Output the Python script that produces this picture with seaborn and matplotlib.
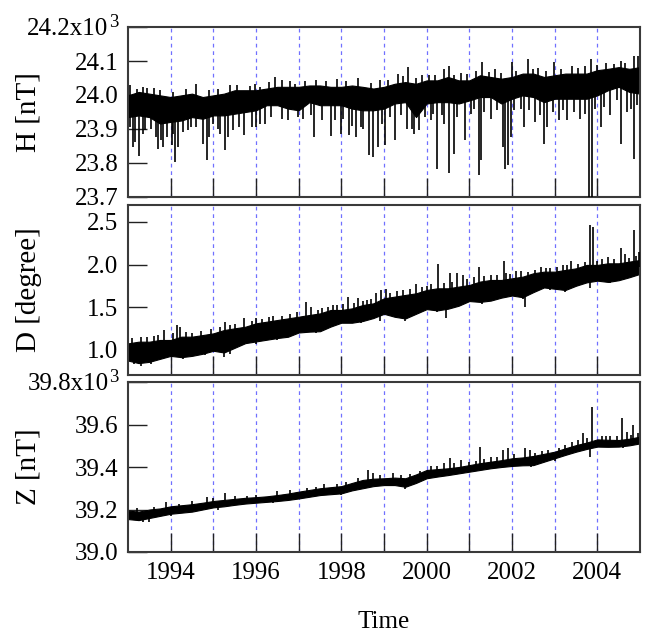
import numpy as np
import pandas as pd
import matplotlib
matplotlib.use("Agg")
import matplotlib.pyplot as plt
import seaborn as sns

# ---------------------------------------------------------------------------
# Geomagnetic field components, 1993-2005
# Quarterly envelope of the dense record (low / high) plus isolated spikes.
# ---------------------------------------------------------------------------
quarter_years = np.linspace(1993.0, 2005.0, 49)

# Horizontal intensity H [nT]
h_low = [23935, 23940, 23935, 23916, 23921, 23925, 23935, 23930, 23940, 23940,
         23945, 23950, 23955, 23970, 23970, 23960, 23955, 23979, 23970, 23970,
         23970, 23960, 23955, 23955, 23960, 23975, 23979, 23935, 23975, 23979,
         23979, 23975, 23984, 23994, 23994, 23975, 23989, 23999, 23994, 23979,
         23989, 23989, 23989, 23989, 23999, 24014, 24024, 24009, 24004]
h_high = [23999, 24009, 24004, 23999, 23994, 23999, 24004, 23994, 23999, 24004,
          24014, 24014, 24014, 24019, 24024, 24024, 24024, 24028, 24028, 24024,
          24024, 24028, 24024, 24019, 24024, 24033, 24038, 24033, 24043, 24043,
          24053, 24043, 24043, 24058, 24053, 24048, 24053, 24063, 24063, 24053,
          24058, 24063, 24063, 24063, 24073, 24077, 24082, 24077, 24082]
h_spike_years = [
    # large dips
    1993.12, 1993.17, 1993.26, 1993.35, 1993.55, 1993.70, 1993.82, 1993.92,
    1994.02, 1994.11, 1994.17, 1994.30, 1994.48, 1994.76, 1994.84, 1994.91,
    1995.10, 1995.27, 1995.34, 1995.60, 1995.73, 1996.01, 1996.20, 1996.60,
    1996.98, 1997.37, 1997.55, 1997.75, 1997.99, 1998.19, 1998.35, 1998.50,
    1998.64, 1998.74, 1998.86, 1999.03, 1999.25, 1999.55, 1999.71, 1999.83,
    2000.10, 2000.25, 2000.40, 2000.53, 2000.64, 2000.89, 2001.05, 2001.23,
    2001.27, 2001.50, 2001.78, 2001.84, 2001.90, 2001.98, 2002.29, 2002.55,
    2002.74, 2002.83, 2003.10, 2003.30, 2003.60, 2003.81, 2003.87, 2004.08,
    2004.30, 2004.55, 2004.70, 2004.85,
    # small dips
    1993.05, 1993.40, 1993.65, 1993.78, 1994.05, 1994.40, 1994.60, 1995.00,
    1995.15, 1995.45, 1995.90, 1996.10, 1996.35, 1996.75, 1997.10, 1997.30,
    1997.85, 1998.05, 1998.25, 1998.45, 1998.95, 1999.15, 1999.40, 1999.65,
    1999.95, 2000.15, 2000.35, 2000.70, 2001.10, 2001.35, 2001.65, 2002.05,
    2002.20, 2002.40, 2002.65, 2002.95, 2003.20, 2003.45, 2003.70, 2003.95,
    2004.15, 2004.45, 2004.80, 2004.92,
    # upward excursions
    1993.36, 1993.60, 1994.60, 1995.40, 1995.97, 1996.44, 1996.80, 1997.40,
    1997.90, 1998.40, 1998.90, 1999.32, 1999.57, 1999.90, 2000.41, 2000.52,
    2000.80, 2001.29, 2001.60, 2001.99, 2002.37, 2002.60, 2002.98, 2003.40,
    2003.84, 2004.20, 2004.56, 2004.87, 2004.96,
    1993.05, 1993.20, 1993.45, 1993.75, 1994.05, 1994.35, 1994.90, 1995.10,
    1995.55, 1995.85, 1996.10, 1996.30, 1996.62, 1996.92, 1997.15, 1997.65,
    1998.10, 1998.70, 1999.10, 1999.45, 1999.75, 2000.05, 2000.20, 2000.65,
    2000.95, 2001.15, 2001.45, 2001.75, 2002.10, 2002.50, 2002.80, 2003.15,
    2003.55, 2003.70, 2004.00, 2004.40, 2004.65]
h_spike_values = [
    23847, 23862, 23820, 23886, 23900, 23842, 23847, 23877,
    23852, 23803, 23847, 23890, 23906, 23857, 23808, 23877,
    23900, 23837, 23877, 23905, 23881, 23906, 23915, 23930,
    23935, 23877, 23925, 23878, 23886, 23881, 23877, 23900,
    23823, 23818, 23847, 23852, 23867, 23900, 23886, 23896,
    23925, 23783, 23915, 23771, 23827, 23867, 23945, 23764,
    23808, 23930, 23847, 23783, 23793, 23877, 23906, 23920,
    23857, 23906, 23925, 23926, 23930, 23695, 23695, 23906,
    23940, 23857, 23950, 23813,
    23906, 23896, 23877, 23867, 23886, 23896, 23906, 23916,
    23886, 23896, 23906, 23916, 23935, 23925, 23930, 23940,
    23925, 23930, 23910, 23905, 23915, 23935, 23940, 23900,
    23935, 23945, 23940, 23935, 23960, 23950, 23955, 23955,
    23960, 23955, 23940, 23950, 23955, 23950, 23945, 23960,
    23965, 23985, 23960, 23970,
    24024, 24020, 24031, 24030, 24033, 24053, 24040, 24045,
    24048, 24050, 24045, 24063, 24082, 24060, 24077, 24084,
    24065, 24097, 24075, 24097, 24107, 24080, 24097, 24085,
    24107, 24095, 24100, 24114, 24114,
    24028, 24019, 24021, 24014, 24009, 24019, 24014, 24019,
    24028, 24026, 24024, 24038, 24043, 24033, 24040, 24042,
    24040, 24035, 24045, 24055, 24050, 24058, 24060, 24058,
    24062, 24070, 24068, 24065, 24072, 24075, 24070, 24075,
    24078, 24085, 24088, 24090, 24095]

# Declination D [degree]
d_low = [0.870, 0.840, 0.855, 0.890, 0.925, 0.910, 0.925, 0.950, 0.985, 0.965,
         1.020, 1.075, 1.095, 1.115, 1.135, 1.150, 1.200, 1.210, 1.215, 1.270,
         1.315, 1.315, 1.335, 1.370, 1.420, 1.385, 1.365, 1.420, 1.475, 1.460,
         1.480, 1.515, 1.570, 1.560, 1.575, 1.610, 1.635, 1.615, 1.675, 1.730,
         1.715, 1.700, 1.750, 1.790, 1.810, 1.795, 1.815, 1.850, 1.890]
d_high = [1.072, 1.092, 1.092, 1.112, 1.112, 1.151, 1.151, 1.170, 1.190, 1.229,
          1.249, 1.268, 1.308, 1.327, 1.347, 1.366, 1.386, 1.406, 1.425, 1.465,
          1.465, 1.484, 1.523, 1.543, 1.602, 1.622, 1.642, 1.661, 1.700, 1.720,
          1.720, 1.740, 1.759, 1.799, 1.818, 1.818, 1.838, 1.857, 1.897, 1.916,
          1.916, 1.936, 1.955, 1.995, 1.995, 2.014, 2.014, 2.034, 2.053]
d_spike_years = [
    1993.30, 1993.60, 1993.84, 1994.16, 1994.22, 1994.50, 1995.27, 1995.50,
    1995.73, 1996.01, 1996.40, 1996.80, 1997.18, 1997.28, 1997.69, 1997.90,
    1998.16, 1998.39, 1998.60, 1998.82, 1998.94, 1999.05, 1999.30, 1999.74,
    2000.10, 2000.27, 2000.54, 2000.72, 2000.84, 2001.23, 2001.50, 2001.81,
    2001.87, 2002.10, 2002.38, 2002.69, 2002.88, 2003.20, 2003.39, 2003.82,
    2003.90, 2004.10, 2004.25, 2004.56, 2004.66, 2004.85, 2004.97,
    1993.10, 1993.45, 1993.70, 1994.05, 1994.35, 1994.70, 1994.95, 1995.15,
    1995.40, 1995.90, 1996.15, 1996.30, 1996.60, 1996.95, 1997.45, 1997.55,
    1997.80, 1998.05, 1998.30, 1998.50, 1998.70, 1999.15, 1999.45, 1999.60,
    1999.90, 2000.00, 2000.40, 2000.60, 2000.95, 2001.10, 2001.35, 2001.65,
    2001.95, 2002.20, 2002.55, 2002.80, 2003.05, 2003.30, 2003.55, 2003.70,
    2004.00, 2004.40, 2004.75, 2004.90,
    1993.31, 1995.26, 1996.00, 1998.90, 2000.46, 2002.30, 2003.83,
    1993.15, 1993.55, 1994.30, 1994.80, 1995.40, 1996.50, 1997.40, 1998.45,
    1999.50, 2000.25, 2001.30, 2002.25, 2002.90, 2003.25, 2004.30]
d_spike_values = [
    1.150, 1.160, 1.229, 1.288, 1.270, 1.200, 1.327, 1.300,
    1.366, 1.370, 1.400, 1.420, 1.563, 1.500, 1.504, 1.520,
    1.613, 1.602, 1.580, 1.661, 1.700, 1.708, 1.690, 1.771,
    1.770, 2.006, 1.897, 1.904, 1.877, 1.975, 1.880, 2.046,
    1.900, 1.920, 1.916, 1.975, 1.960, 2.000, 2.046, 2.465,
    2.446, 2.070, 2.093, 2.191, 2.120, 2.406, 2.150,
    1.14, 1.15, 1.17, 1.19, 1.21, 1.22, 1.24, 1.27,
    1.29, 1.33, 1.36, 1.38, 1.40, 1.44, 1.47, 1.49,
    1.52, 1.53, 1.55, 1.57, 1.59, 1.67, 1.70, 1.71,
    1.73, 1.75, 1.78, 1.80, 1.83, 1.85, 1.87, 1.88,
    1.89, 1.92, 1.94, 1.96, 1.97, 1.99, 2.01, 2.03,
    2.04, 2.06, 2.08, 2.10,
    0.806, 0.915, 1.060, 1.330, 1.367, 1.505, 1.720,
    0.83, 0.83, 0.89, 0.93, 0.95, 1.11, 1.19, 1.31,
    1.34, 1.44, 1.54, 1.60, 1.70, 1.68, 1.78]

# Vertical intensity Z [nT]
z_low = [39155, 39150, 39160, 39170, 39180, 39185, 39190, 39200, 39210, 39215,
         39222, 39228, 39232, 39236, 39240, 39245, 39252, 39260, 39268, 39272,
         39276, 39290, 39300, 39310, 39315, 39315, 39307, 39325, 39347, 39355,
         39362, 39370, 39378, 39386, 39394, 39400, 39405, 39408, 39409, 39425,
         39441, 39457, 39472, 39485, 39496, 39495, 39496, 39502, 39511]
z_high = [39195, 39190, 39200, 39205, 39215, 39220, 39225, 39232, 39240, 39245,
          39250, 39255, 39258, 39262, 39268, 39275, 39284, 39292, 39300, 39305,
          39310, 39325, 39339, 39345, 39347, 39350, 39347, 39365, 39386, 39390,
          39394, 39400, 39409, 39418, 39425, 39432, 39441, 39445, 39452, 39462,
          39472, 39488, 39503, 39515, 39530, 39528, 39527, 39533, 39543]
z_spike_years = [
    1993.90, 1994.20, 1994.84, 1995.27, 1995.80, 1996.50, 1997.20, 1997.60,
    1998.10, 1998.63, 1998.74, 1999.20, 1999.60, 2000.10, 2000.40, 2000.54,
    2000.81, 2001.00, 2001.24, 2001.50, 2001.79, 2001.91, 2002.30, 2002.42,
    2002.70, 2003.10, 2003.40, 2003.66, 2003.88, 2004.10, 2004.30, 2004.58,
    2004.70, 2004.84, 2004.95,
    1993.20, 1993.60, 1994.50, 1995.00, 1995.50, 1996.00, 1996.80, 1997.40,
    1997.90, 1998.40, 1998.90, 1999.40, 1999.85, 2000.25, 2000.65, 2001.15,
    2001.35, 2001.65, 2002.05, 2002.55, 2002.85, 2003.25, 2003.55, 2003.75,
    2004.20, 2004.45, 2004.80,
    1993.50, 2003.82, 1993.35, 1994.00, 1995.10, 1996.40, 1998.00, 1999.50,
    2002.45, 2003.00, 2004.60]
z_spike_values = [
    39237, 39225, 39257, 39276, 39265, 39285, 39300, 39318,
    39330, 39386, 39370, 39370, 39365, 39405, 39420, 39441,
    39433, 39425, 39492, 39445, 39480, 39488, 39488, 39480,
    39475, 39490, 39520, 39558, 39681, 39545, 39548, 39629,
    39565, 39597, 39560,
    39205, 39210, 39240, 39255, 39265, 39270, 39290, 39305,
    39320, 39350, 39362, 39362, 39380, 39405, 39420, 39430,
    39440, 39445, 39460, 39468, 39480, 39505, 39525, 39535,
    39545, 39545, 39550,
    39140, 39448, 39140, 39170, 39200, 39230, 39268, 39298,
    39400, 39430, 39488]

year_ticks = list(range(1994, 2005))
year_labels = [str(y) if y % 2 == 0 else "" for y in year_ticks]

# top tick of the nT panels carries the x10^3 multiplier, drawn separately
panels = [
    dict(low=h_low, high=h_high, sx=h_spike_years, sy=h_spike_values,
         ylim=(23700, 24200),
         yticks=[23700, 23800, 23900, 24000, 24100, 24200],
         ylabels=["23.7", "23.8", "23.9", "24.0", "24.1", ""],
         top_label="24.2x10",
         name="H [nT]"),
    dict(low=d_low, high=d_high, sx=d_spike_years, sy=d_spike_values,
         ylim=(0.7, 2.7),
         yticks=[1.0, 1.5, 2.0, 2.5],
         ylabels=["1.0", "1.5", "2.0", "2.5"],
         top_label=None,
         name="D [degree]"),
    dict(low=z_low, high=z_high, sx=z_spike_years, sy=z_spike_values,
         ylim=(39000, 39800),
         yticks=[39000, 39200, 39400, 39600, 39800],
         ylabels=["39.0", "39.2", "39.4", "39.6", ""],
         top_label="39.8x10",
         name="Z [nT]"),
]

sns.set_theme(style="ticks")
plt.rcParams["font.family"] = ["Liberation Serif", "DejaVu Serif"]
plt.rcParams["text.color"] = "black"
plt.rcParams["axes.labelcolor"] = "black"
plt.rcParams["xtick.labelcolor"] = "black"
plt.rcParams["ytick.labelcolor"] = "black"

W, H = 648, 638
fig = plt.figure(figsize=(W / 100, H / 100), dpi=100)

frame_color = "#3a3a3a"
grid_color = "#7070ff"
boxes = [(27, 197), (205, 375), (382, 552)]
left_px, right_px = 128, 640

for i, (p, (top_px, bot_px)) in enumerate(zip(panels, boxes)):
    ax = fig.add_axes([left_px / W, 1 - bot_px / H,
                       (right_px - left_px) / W, (bot_px - top_px) / H])

    # yearly guide lines
    for yr in year_ticks:
        ax.axvline(yr, color=grid_color, lw=0.9, ls=(0, (3, 3)), zorder=0)

    # dense record drawn as its min/max envelope
    df = pd.DataFrame({
        "year": np.concatenate([quarter_years, quarter_years]),
        "value": np.concatenate([p["low"], p["high"]]),
    })
    sns.lineplot(data=df, x="year", y="value", estimator="mean",
                 errorbar=("pi", 100), color="black", lw=1.0,
                 err_kws={"alpha": 1.0, "linewidth": 0.8}, ax=ax, zorder=2)

    # isolated spikes, rising from the middle of the band
    mid = (np.asarray(p["low"]) + np.asarray(p["high"])) / 2
    base = np.interp(p["sx"], quarter_years, mid)
    ax.vlines(p["sx"], base, p["sy"], color="black", lw=1.2, zorder=3)

    ax.set_xlim(1993, 2005)
    ax.set_ylim(*p["ylim"])
    ax.set_xticks(year_ticks, labels=year_labels if i == 2 else [""] * len(year_ticks))
    ax.set_yticks(p["yticks"], labels=p["ylabels"])
    ax.tick_params(direction="in", length=13.5, width=1.0, color="#222222",
                   labelsize=18, pad=7, top=False, right=False)
    ax.set_xlabel("")
    ax.set_ylabel(p["name"], fontsize=21)
    ax.yaxis.set_label_coords(-0.168, 0.5)
    for s in ax.spines.values():
        s.set_color(frame_color)
        s.set_linewidth(1.5)

    if p["top_label"]:
        ax.annotate(p["top_label"], xy=(0, 1), xycoords="axes fraction",
                    xytext=(-14.0, -5.8), textcoords="offset points",
                    ha="right", va="baseline", fontsize=18)
        ax.annotate("3", xy=(0, 1), xycoords="axes fraction",
                    xytext=(-7.2, 0.3), textcoords="offset points",
                    ha="right", va="baseline", fontsize=13.5)

fig.text(384 / W, 1 - 622 / H, "Time", ha="center", va="center", fontsize=18)

fig.savefig("out.png", dpi=100)
